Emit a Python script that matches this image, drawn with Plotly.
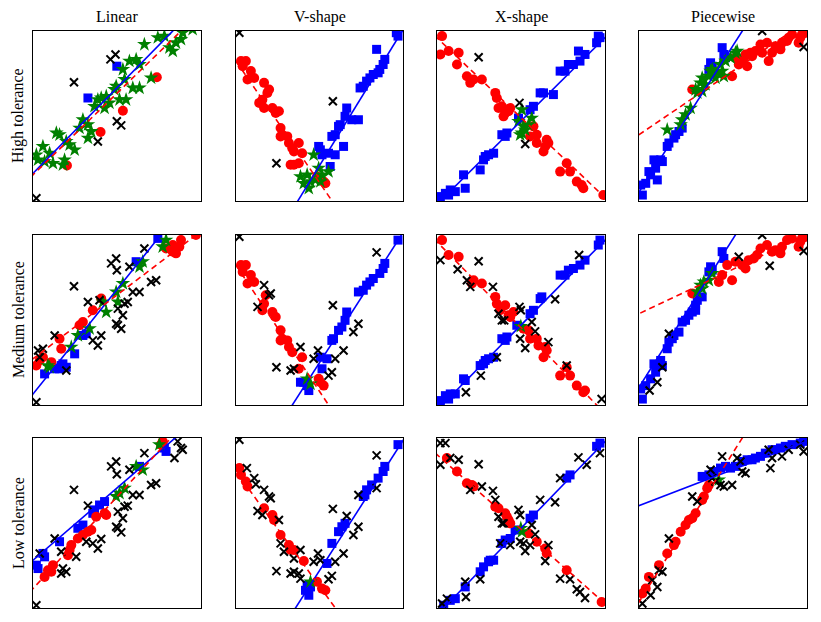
import plotly.graph_objects as go
from plotly.subplots import make_subplots

COL_TITLES = ["Linear", "V-shape", "X-shape", "Piecewise"]
ROW_TITLES = ["High tolerance", "Medium tolerance", "Low tolerance"]

# ---------------- High tolerance ----------------
H_LIN_SQ = [(49.9, 79.3), (32.7, 60.6)]
H_LIN_CI = [(73.7, 72.8), (53.5, 53.1), (40.2, 40.6), (20.2, 20.9)]
H_LIN_ST = [(2.0, 27.2), (5.9, 32.1), (3.0, 24.2), (6.9, 23.2), (11.9, 22.2), (17.8, 21.3), (18.8, 24.2),
            (13.9, 40.0), (15.8, 39.0), (21.8, 33.1), (24.8, 30.1), (27.7, 42.9), (29.7, 47.8), (32.7, 44.9),
            (34.7, 40.9), (36.6, 55.7), (38.6, 59.6), (40.6, 60.6), (42.6, 54.7), (43.6, 61.6), (45.5, 57.7),
            (48.5, 65.6), (49.5, 67.5), (51.5, 59.6), (54.5, 71.5), (55.4, 59.6), (57.4, 82.3), (59.4, 66.5),
            (63.4, 66.5), (61.4, 83.3), (63.4, 80.3), (66.3, 92.1), (70.3, 72.4), (74.3, 96.1), (78.2, 97.0),
            (81.2, 90.2), (83.2, 88.2), (85.1, 93.1), (88.1, 95.1), (89.1, 99.0), (95.0, 101.0), (9.9, 28.1),
            (19.8, 35.0), (32.7, 37.0), (53.5, 77.4)]
H_LIN_X = [(49.1, 86.2), (46.1, 83.3), (24.4, 69.9), (49.9, 46.9), (52.5, 44.5), (38.6, 35.0), (2.0, 1.6)]
H_LIN_BL = (16.3, 1.006)
H_LIN_RL = (15.4, 0.96)

H_V_SQ = [(97.0, 97.0), (96.0, 99.0), (84.2, 89.2), (89.1, 83.3), (88.1, 80.3), (86.1, 77.4), (85.1, 75.4),
          (82.2, 74.4), (80.2, 72.4), (78.2, 70.5), (76.2, 67.5), (74.3, 66.5), (66.3, 54.7), (65.3, 49.8),
          (69.3, 47.8), (73.3, 47.8), (62.4, 44.9), (61.4, 43.9), (59.4, 39.0), (57.4, 38.0), (64.4, 32.1),
          (49.5, 32.1), (51.5, 27.2), (55.4, 28.1), (59.4, 27.2), (56.4, 20.3), (50.5, 30.1)]
H_V_CI = [(3.0, 82.3), (5.9, 82.3), (4.0, 79.3), (8.9, 76.4), (10.9, 72.4), (6.9, 71.5), (16.8, 69.5),
          (19.8, 65.6), (18.8, 63.6), (15.8, 59.6), (13.9, 57.7), (16.8, 54.7), (21.8, 54.7), (23.8, 51.8),
          (25.7, 52.8), (26.7, 42.9), (27.7, 39.0), (30.7, 38.0), (26.7, 38.0), (31.7, 34.1), (33.7, 31.1),
          (37.6, 34.1), (39.6, 28.1), (34.7, 21.3), (32.7, 21.3), (37.6, 22.2), (52.5, 11.4), (53.5, 10.4),
          (48.5, 14.4), (34.7, 29.1)]
H_V_ST = [(46.5, 27.2), (38.6, 14.4), (42.6, 15.4), (44.6, 11.4), (43.6, 7.5), (49.5, 19.3), (51.5, 15.4),
          (55.4, 17.3), (50.5, 11.4), (47.5, 12.4), (40.6, 10.4)]
H_V_X = [(2.0, 99.0), (58.0, 58.7), (24.2, 22.2)]
H_V_BL = (-59.2, 1.6)
H_V_RL = (82.3, -1.43)

H_X_SQ = [(2.0, 2.6), (5.0, 4.5), (7.9, 6.5), (10.9, 5.5), (6.9, 3.5), (16.8, 7.5), (15.8, 15.4), (25.7, 18.3),
          (28.7, 26.2), (30.7, 27.2), (33.7, 28.1), (27.7, 24.2), (38.6, 39.0), (41.6, 40.0), (40.6, 38.0),
          (48.5, 48.8), (55.4, 53.7), (57.4, 55.7), (61.4, 63.6), (69.3, 62.6), (63.4, 63.6), (73.3, 76.4),
          (76.2, 76.4), (78.2, 80.3), (81.2, 80.3), (85.1, 82.3), (88.1, 86.2), (84.2, 88.2), (95.0, 93.1),
          (97.0, 96.1), (96.0, 97.0)]
H_X_CI = [(3.0, 97.0), (2.0, 86.2), (6.9, 88.2), (12.9, 87.2), (11.9, 80.3), (17.8, 73.4), (19.8, 69.5),
          (21.8, 71.5), (26.7, 71.5), (34.7, 63.6), (35.6, 60.6), (36.6, 54.7), (38.6, 55.7), (40.6, 51.8),
          (39.6, 49.8), (42.6, 52.8), (43.6, 54.7), (57.4, 43.9), (55.4, 38.0), (59.4, 39.0), (65.3, 36.0),
          (64.4, 32.1), (66.3, 34.1), (63.4, 29.1), (59.4, 34.1), (77.2, 22.2), (73.3, 17.3), (79.2, 17.3),
          (83.2, 11.4), (87.1, 7.5), (86.1, 9.4), (99.0, 3.5)]
H_X_ST = [(50.5, 53.7), (56.4, 48.8), (48.5, 46.9), (51.5, 43.9), (54.5, 44.9), (50.5, 40.0), (52.5, 41.9),
          (49.5, 39.0)]
H_X_X = [(24.8, 84.6), (49.1, 57.7), (52.5, 33.5)]
H_X_BL = (-1.96, 0.98)
H_X_RL = (96.0, -0.94)

H_PW_SQ = [(2.0, 3.5), (1.0, 9.4), (4.0, 10.4), (6.9, 15.4), (10.9, 12.4), (9.9, 19.3), (5.9, 17.3),
           (8.9, 24.2), (12.9, 24.2), (13.9, 23.2), (16.8, 32.1), (17.8, 34.1), (20.8, 37.0), (23.8, 40.9),
           (21.8, 39.0), (25.7, 42.9), (42.6, 81.3), (43.6, 79.3), (41.6, 77.4), (49.5, 90.2), (50.5, 86.2),
           (51.5, 84.3)]
H_PW_CI = [(31.7, 65.6), (55.4, 73.4), (59.4, 80.3), (61.4, 82.3), (64.4, 79.3), (63.4, 86.2), (66.3, 87.2),
           (69.3, 88.2), (72.3, 92.1), (76.2, 93.1), (77.2, 82.3), (79.2, 87.2), (81.2, 91.1), (84.2, 89.2),
           (85.1, 93.1), (88.1, 94.1), (89.1, 96.1), (91.1, 98.0), (96.0, 96.1), (97.0, 98.0), (99.0, 99.0),
           (95.0, 93.1), (57.4, 84.3), (62.4, 84.3), (67.3, 85.2), (73.3, 87.2)]
H_PW_ST = [(16.8, 41.9), (24.8, 44.9), (25.7, 47.8), (27.7, 50.8), (30.7, 54.7), (34.7, 63.6), (33.7, 65.6),
           (36.6, 69.5), (37.6, 72.4), (37.6, 64.6), (39.6, 68.5), (41.6, 73.4), (42.6, 76.4), (43.6, 77.4),
           (45.5, 72.4), (46.5, 75.4), (48.5, 80.3), (49.5, 76.4), (51.5, 82.3), (54.5, 84.3), (57.4, 87.2),
           (58.4, 88.2), (50.5, 73.4)]
H_PW_X = [(73.3, 100.0), (98.0, 90.6)]
H_PW_BL = (5.3, 1.54)
H_PW_RL = (39.0, 0.67)

# ---------------- Medium tolerance ----------------
M_LIN_SQ = [(74.3, 98.0), (61.4, 84.3), (31.7, 41.9), (29.7, 40.9), (24.8, 30.1), (17.8, 24.2), (15.8, 21.3),
            (19.8, 22.2), (6.9, 18.3), (12.9, 21.3), (16.8, 23.2)]
M_LIN_CI = [(88.1, 97.0), (87.1, 93.1), (83.2, 90.2), (85.1, 89.2), (79.2, 92.1), (83.2, 94.1), (40.6, 62.6),
            (35.6, 55.7), (29.7, 48.8), (27.7, 46.9), (15.8, 39.0), (16.8, 33.1), (10.9, 25.2), (4.0, 26.2),
            (2.0, 23.2), (5.9, 28.1), (97.0, 100.0)]
M_LIN_ST = [(79.2, 97.0), (77.2, 93.1), (65.3, 84.3), (63.4, 81.3), (53.5, 71.5), (49.5, 66.5), (50.5, 60.6),
            (43.6, 54.7), (41.6, 60.6), (33.7, 44.9), (26.7, 40.9), (22.8, 34.1), (9.9, 22.2), (8.9, 23.2)]
M_LIN_X = [(66.3, 92.1), (49.5, 86.2), (46.5, 83.3), (49.9, 79.3), (57.4, 81.3), (24.4, 69.9), (70.3, 72.4),
           (73.3, 73.4), (59.4, 66.5), (63.4, 66.5), (32.7, 60.6), (39.6, 61.6), (56.4, 60.6), (54.5, 59.6),
           (50.5, 56.7), (53.5, 52.8), (49.5, 47.8), (52.5, 44.9), (50.5, 46.9), (12.9, 40.9), (40.6, 40.9),
           (35.6, 38.0), (38.6, 35.0), (5.9, 33.1), (3.0, 32.1), (4.0, 28.1), (2.0, 1.6), (19.8, 20.3)]
M_LIN_BL = (6.5, 1.23)
M_LIN_RL = (27.2, 0.75)

M_V_SQ = [(97.0, 97.0), (89.1, 83.3), (88.1, 80.3), (86.1, 77.4), (82.2, 74.4), (80.2, 72.4), (78.2, 70.5),
          (76.2, 67.5), (73.3, 66.5), (66.3, 54.7), (65.3, 49.8), (63.4, 45.9), (61.4, 43.9), (58.4, 39.0),
          (57.4, 38.0), (50.5, 28.1), (54.5, 27.2), (51.5, 21.3), (40.6, 13.4), (38.6, 13.4), (43.6, 8.5),
          (42.6, 11.4)]
M_V_CI = [(3.0, 82.3), (5.9, 82.3), (4.0, 78.3), (8.9, 76.4), (10.9, 72.4), (6.9, 71.5), (17.8, 64.6),
          (16.8, 59.6), (15.8, 55.7), (21.8, 54.7), (23.8, 51.8), (26.7, 43.9), (27.7, 39.0), (30.7, 38.0),
          (26.7, 38.0), (31.7, 34.1), (33.7, 31.1), (39.6, 28.1), (37.6, 21.3), (49.5, 15.4), (52.5, 11.4),
          (50.5, 13.4)]
M_V_ST = [(42.6, 15.4), (44.6, 12.4)]
M_V_X = [(2.0, 99.0), (84.2, 89.8), (16.8, 70.5), (20.8, 65.6), (19.8, 64.6), (12.9, 57.7), (58.0, 58.7),
         (73.3, 47.8), (70.3, 42.9), (38.6, 34.1), (64.4, 32.1), (49.1, 32.1), (46.5, 27.2), (59.4, 27.2),
         (24.2, 22.2), (32.7, 20.3), (34.7, 21.3), (57.4, 19.3), (55.4, 17.3)]
M_V_BL = (-51.6, 1.53)
M_V_RL = (82.3, -1.485)

M_X_SQ = [(2.0, 2.6), (5.0, 5.5), (7.9, 6.5), (10.9, 6.5), (6.9, 3.5), (15.8, 15.4), (16.8, 14.4), (25.7, 23.2),
          (28.7, 26.2), (30.7, 27.2), (33.7, 28.1), (27.7, 24.2), (38.6, 39.0), (41.6, 40.0), (40.6, 38.0),
          (47.5, 46.9), (55.4, 53.7), (57.4, 55.7), (61.4, 62.6), (62.4, 63.6), (73.3, 76.4), (76.2, 76.4),
          (78.2, 79.3), (81.2, 80.3), (85.1, 82.3), (88.1, 85.2), (96.0, 94.1), (97.0, 97.0)]
M_X_CI = [(3.0, 97.0), (6.9, 88.2), (12.9, 87.2), (21.8, 73.4), (20.8, 71.5), (26.7, 71.5), (34.7, 63.6),
          (35.6, 59.6), (37.6, 55.7), (40.6, 58.7), (42.6, 52.8), (43.6, 51.8), (45.5, 54.7), (51.5, 44.9),
          (54.5, 43.9), (55.4, 39.0), (59.4, 39.0), (60.4, 35.0), (64.4, 34.1), (65.3, 32.1), (63.4, 28.1),
          (77.2, 22.2), (73.3, 17.3), (79.2, 17.3), (83.2, 11.4), (87.1, 7.5), (88.1, 8.5)]
M_X_ST = [(49.9, 46.3)]
M_X_X = [(2.0, 85.2), (24.8, 84.6), (12.3, 79.9), (17.8, 73.4), (19.8, 69.5), (33.3, 69.5), (84.6, 88.2),
         (70.3, 62.2), (49.1, 57.7), (49.9, 55.7), (36.6, 53.7), (38.6, 49.8), (40.0, 49.8), (56.4, 48.8),
         (58.4, 43.3), (49.5, 39.0), (52.5, 33.5), (66.3, 37.0), (35.6, 28.1), (26.1, 17.3), (17.2, 7.5),
         (77.2, 23.2), (98.0, 3.5)]
M_X_BL = (-3.0, 1.0)
M_X_RL = (96.0, -1.01)

M_PW_SQ = [(2.0, 3.5), (1.0, 9.4), (4.0, 11.4), (6.9, 15.4), (9.9, 19.3), (8.9, 24.2), (12.9, 26.2),
           (13.9, 23.2), (16.8, 33.1), (17.8, 37.0), (20.8, 40.9), (19.8, 39.0), (23.8, 42.9), (25.7, 48.8),
           (27.7, 49.8), (29.7, 52.8), (31.7, 54.7), (33.7, 55.7), (33.7, 58.7), (34.7, 61.6), (37.6, 63.6),
           (42.6, 81.3), (43.6, 79.3), (41.6, 78.3), (49.5, 90.2), (50.5, 86.2)]
M_PW_CI = [(31.7, 65.6), (47.5, 72.4), (49.5, 76.4), (55.4, 73.4), (52.5, 82.3), (57.4, 84.3), (61.4, 82.3),
           (63.4, 80.3), (65.3, 85.2), (68.3, 86.2), (70.3, 88.2), (72.3, 92.1), (76.2, 94.1), (79.2, 90.2),
           (81.2, 91.1), (84.2, 89.2), (85.1, 93.1), (88.1, 97.0), (91.1, 98.0), (96.0, 96.1), (97.0, 98.0),
           (99.0, 99.0), (95.0, 93.1)]
M_PW_ST = [(36.6, 70.5), (38.6, 72.4), (41.6, 73.4), (43.6, 77.4), (37.6, 68.5), (34.7, 66.5)]
M_PW_X = [(73.3, 100.0), (59.4, 87.2), (77.8, 81.9), (98.0, 90.6), (17.8, 41.9), (13.9, 22.2), (10.9, 13.4),
          (6.3, 8.5)]
M_PW_BL = (10.5, 1.56)
M_PW_RL = (53.7, 0.467)

# ---------------- Low tolerance ----------------
L_LIN_SQ = [(2.0, 25.2), (3.0, 23.2), (5.9, 32.1), (6.9, 30.1), (15.8, 39.0), (26.7, 46.9), (29.7, 48.8),
            (35.6, 55.7), (39.6, 60.6), (42.6, 62.6), (36.6, 57.7), (63.4, 83.3), (79.2, 92.1), (78.2, 94.1)]
L_LIN_CI = [(6.9, 18.3), (8.9, 22.2), (11.9, 25.2), (10.9, 21.3), (20.8, 31.1), (21.8, 34.1), (22.8, 37.0),
            (26.7, 40.9), (29.7, 42.9), (32.7, 44.9), (34.7, 45.9), (37.6, 53.7), (43.6, 54.7), (42.6, 55.7),
            (77.2, 98.0), (76.2, 96.1)]
L_LIN_ST = [(65.3, 81.3), (54.5, 70.5), (49.5, 65.6), (51.5, 67.5), (61.4, 83.3), (75.2, 96.1)]
L_LIN_X = [(66.3, 91.1), (49.5, 86.2), (46.5, 83.3), (49.9, 78.7), (57.4, 81.3), (24.4, 69.5), (70.3, 72.4),
           (73.3, 73.4), (59.4, 66.5), (63.4, 66.5), (32.7, 60.2), (56.4, 60.2), (54.5, 59.6), (50.5, 56.7),
           (53.5, 52.8), (49.5, 47.8), (52.5, 44.5), (50.5, 46.9), (12.9, 40.9), (40.6, 40.6), (35.6, 38.0),
           (38.6, 35.0), (16.8, 33.1), (25.7, 30.1), (4.0, 32.1), (17.8, 23.2), (19.8, 21.3), (16.8, 20.3),
           (2.0, 1.6), (86.1, 98.0), (88.1, 94.1), (84.2, 88.2), (89.1, 93.1), (31.7, 39.0)]
L_LIN_BL = (28.1, 0.85)
L_LIN_RL = (11.4, 1.08)

L_V_SQ = [(97.0, 96.1), (89.1, 83.3), (88.1, 80.3), (85.1, 76.4), (81.2, 72.4), (78.2, 69.5), (77.2, 66.5),
          (76.2, 65.6), (65.3, 49.8), (63.4, 47.8), (61.4, 44.9), (57.4, 38.0), (54.5, 26.2), (42.6, 13.4),
          (43.6, 7.5), (41.6, 10.4), (44.6, 12.4)]
L_V_CI = [(2.0, 82.3), (3.0, 78.3), (5.9, 74.4), (6.9, 71.5), (16.8, 58.7), (21.8, 54.7), (22.8, 51.8),
          (26.7, 42.9), (31.7, 37.0), (32.7, 34.1), (34.7, 34.1), (40.6, 27.6), (48.5, 15.4), (51.5, 11.4),
          (53.5, 10.4)]
L_V_ST = [(44.6, 15.4)]
L_V_X = [(2.0, 99.0), (84.2, 89.8), (6.5, 82.3), (10.9, 76.4), (11.9, 72.8), (16.8, 69.5), (19.8, 65.6),
         (20.8, 64.6), (12.9, 57.1), (15.8, 54.7), (25.7, 51.8), (58.0, 58.3), (66.3, 54.1), (73.3, 47.8),
         (70.3, 42.9), (73.3, 66.5), (84.2, 70.5), (26.7, 38.0), (28.7, 33.1), (38.6, 34.1), (34.7, 29.1),
         (64.4, 32.1), (49.1, 32.1), (46.5, 27.2), (50.5, 28.1), (59.4, 27.2), (24.2, 21.7), (32.7, 20.3),
         (34.7, 21.3), (37.6, 20.3), (38.6, 17.3), (57.4, 18.9), (55.4, 16.9)]
L_V_BL = (-54.5, 1.53)
L_V_RL = (80.3, -1.35)

L_X_SQ = [(4.0, 1.6), (7.9, 4.5), (10.9, 5.5), (16.8, 12.4), (25.7, 21.3), (27.7, 24.2), (30.7, 27.2),
          (31.7, 28.1), (33.7, 28.1), (38.6, 38.0), (40.6, 40.0), (43.6, 40.9), (46.5, 45.9), (55.4, 52.8),
          (57.4, 54.7), (77.2, 76.4), (79.2, 78.3), (95.0, 95.1), (97.0, 97.0)]
L_X_CI = [(5.9, 88.2), (11.9, 80.3), (17.8, 73.4), (20.8, 72.4), (21.8, 71.5), (34.7, 59.6), (36.6, 58.7),
          (40.6, 55.7), (41.6, 53.7), (42.6, 51.8), (43.6, 49.8), (54.5, 43.9), (59.4, 39.0), (64.4, 35.0),
          (65.3, 32.1), (77.2, 22.2), (98.0, 3.5)]
L_X_ST = [(49.9, 46.9), (50.5, 44.9)]
L_X_X = [(2.0, 97.0), (5.0, 97.0), (2.0, 84.3), (7.9, 88.2), (12.9, 87.2), (24.8, 84.6), (19.8, 69.5),
         (26.7, 71.5), (33.3, 68.9), (34.7, 63.6), (36.6, 53.7), (38.6, 49.8), (39.6, 49.8), (48.5, 57.7),
         (49.5, 54.7), (56.4, 48.8), (58.4, 43.3), (49.5, 39.0), (52.5, 33.5), (51.5, 38.0), (55.4, 37.0),
         (66.3, 37.0), (64.4, 27.6), (37.6, 38.0), (43.6, 37.0), (25.7, 16.9), (16.8, 15.4), (17.2, 6.5),
         (5.9, 5.5), (3.0, 2.6), (61.4, 63.6), (70.3, 62.2), (73.3, 76.4), (84.2, 88.6), (89.1, 84.3),
         (97.0, 91.1), (73.3, 17.3), (79.2, 16.9), (83.2, 11.0), (88.1, 5.9), (85.1, 9.4)]
L_X_BL = (-4.1, 1.02)
L_X_RL = (90.2, -0.876)

L_PW_SQ = [(37.6, 77.4), (41.6, 78.3), (44.6, 80.3), (48.5, 82.3), (51.5, 83.3), (54.5, 82.3), (57.4, 83.3),
           (61.4, 86.2), (64.4, 87.2), (67.3, 87.2), (69.3, 88.2), (72.3, 89.2), (75.2, 91.1), (79.2, 93.1),
           (81.2, 93.1), (84.2, 94.1), (87.1, 95.1), (91.1, 96.1), (96.0, 97.0), (98.0, 98.0)]
L_PW_CI = [(2.0, 8.5), (4.0, 11.4), (5.9, 18.3), (11.9, 25.2), (16.8, 32.1), (20.8, 37.0), (21.8, 39.0),
           (24.8, 44.9), (27.7, 48.8), (29.7, 51.8), (31.7, 52.8), (33.7, 55.7), (37.6, 63.6), (38.6, 65.6),
           (40.6, 70.5), (41.6, 72.4)]
L_PW_ST = [(47.5, 75.4)]
L_PW_X = [(2.0, 2.6), (6.9, 7.5), (10.9, 12.4), (7.9, 16.3), (11.9, 22.2), (13.9, 21.3), (17.8, 40.9),
          (31.7, 65.6), (34.7, 62.6), (42.6, 81.3), (49.5, 89.2), (58.4, 88.2), (60.4, 86.2), (61.4, 80.3),
          (63.4, 79.3), (48.5, 72.4), (50.5, 71.5), (55.4, 72.4), (77.2, 93.1), (78.2, 82.3), (79.2, 88.2),
          (85.1, 89.2), (89.1, 93.1), (98.0, 92.1), (96.0, 96.1), (43.6, 76.4), (45.5, 74.4)]
L_PW_BL = (60.2, 0.38)
L_PW_RL = (3.5, 1.57)

PANELS = [
    [(H_LIN_SQ, H_LIN_CI, H_LIN_ST, H_LIN_X, H_LIN_BL, H_LIN_RL),
     (H_V_SQ, H_V_CI, H_V_ST, H_V_X, H_V_BL, H_V_RL),
     (H_X_SQ, H_X_CI, H_X_ST, H_X_X, H_X_BL, H_X_RL),
     (H_PW_SQ, H_PW_CI, H_PW_ST, H_PW_X, H_PW_BL, H_PW_RL)],
    [(M_LIN_SQ, M_LIN_CI, M_LIN_ST, M_LIN_X, M_LIN_BL, M_LIN_RL),
     (M_V_SQ, M_V_CI, M_V_ST, M_V_X, M_V_BL, M_V_RL),
     (M_X_SQ, M_X_CI, M_X_ST, M_X_X, M_X_BL, M_X_RL),
     (M_PW_SQ, M_PW_CI, M_PW_ST, M_PW_X, M_PW_BL, M_PW_RL)],
    [(L_LIN_SQ, L_LIN_CI, L_LIN_ST, L_LIN_X, L_LIN_BL, L_LIN_RL),
     (L_V_SQ, L_V_CI, L_V_ST, L_V_X, L_V_BL, L_V_RL),
     (L_X_SQ, L_X_CI, L_X_ST, L_X_X, L_X_BL, L_X_RL),
     (L_PW_SQ, L_PW_CI, L_PW_ST, L_PW_X, L_PW_BL, L_PW_RL)],
]

W, H = 821, 622
COL_PX = [(33, 201), (236, 403), (437, 605), (639, 807)]
ROW_PX = [(31, 201), (235, 405), (438, 608)]
FONT = "Liberation Serif, DejaVu Serif, serif"

fig = make_subplots(rows=3, cols=4)

def xs(pts):
    return [p[0] for p in pts]

def ys(pts):
    return [p[1] for p in pts]

for r in range(3):
    for c in range(4):
        sq, ci, st, xx, bl, rl = PANELS[r][c]
        row, col = r + 1, c + 1
        fig.add_trace(go.Scatter(x=xs(sq), y=ys(sq), mode="markers",
                                 marker=dict(symbol="square", size=9, color="#0000ff", line=dict(width=0))),
                      row=row, col=col)
        fig.add_trace(go.Scatter(x=xs(ci), y=ys(ci), mode="markers",
                                 marker=dict(symbol="circle", size=10, color="#ff0000", line=dict(width=0))),
                      row=row, col=col)
        fig.add_trace(go.Scatter(x=xs(st), y=ys(st), mode="markers",
                                 marker=dict(symbol="star", size=11, color="#008000", line=dict(width=0))),
                      row=row, col=col)
        fig.add_trace(go.Scatter(x=xs(xx), y=ys(xx), mode="markers",
                                 marker=dict(symbol="x-thin", size=8, color="black",
                                             line=dict(width=2, color="black"))),
                      row=row, col=col)
        lx = [-10, 110]
        fig.add_trace(go.Scatter(x=lx, y=[bl[0] + bl[1] * v for v in lx], mode="lines",
                                 line=dict(color="#0000ff", width=1.6)), row=row, col=col)
        fig.add_trace(go.Scatter(x=lx, y=[rl[0] + rl[1] * v for v in lx], mode="lines",
                                 line=dict(color="#ff0000", width=1.6, dash="6px,4px")), row=row, col=col)

        idx = r * 4 + c + 1
        xa = "xaxis" if idx == 1 else f"xaxis{idx}"
        ya = "yaxis" if idx == 1 else f"yaxis{idx}"
        x0, x1 = COL_PX[c]
        y0, y1 = ROW_PX[r]
        fig.layout[xa].update(domain=[x0 / W, x1 / W], range=[0, 100], showticklabels=False, ticks="",
                              showgrid=False, zeroline=False, showline=True, mirror=True,
                              linecolor="black", linewidth=1)
        fig.layout[ya].update(domain=[1 - y1 / H, 1 - y0 / H], range=[0, 100], showticklabels=False, ticks="",
                              showgrid=False, zeroline=False, showline=True, mirror=True,
                              linecolor="black", linewidth=1)

annotations = []
for c, t in enumerate(COL_TITLES):
    x0, x1 = COL_PX[c]
    annotations.append(dict(text=t, x=(x0 + x1) / 2 / W, y=1 - 17 / H, xref="paper", yref="paper",
                            showarrow=False, font=dict(family=FONT, size=16, color="black"),
                            xanchor="center", yanchor="middle"))
for r, t in enumerate(ROW_TITLES):
    y0, y1 = ROW_PX[r]
    annotations.append(dict(text=t, x=18 / W, y=1 - (y0 + y1) / 2 / H, xref="paper", yref="paper",
                            showarrow=False, textangle=-90, font=dict(family=FONT, size=16, color="black"),
                            xanchor="center", yanchor="middle"))

fig.update_layout(width=W, height=H, margin=dict(l=0, r=0, t=0, b=0), showlegend=False,
                  plot_bgcolor="white", paper_bgcolor="white", annotations=annotations)

fig.write_html("out.html")
